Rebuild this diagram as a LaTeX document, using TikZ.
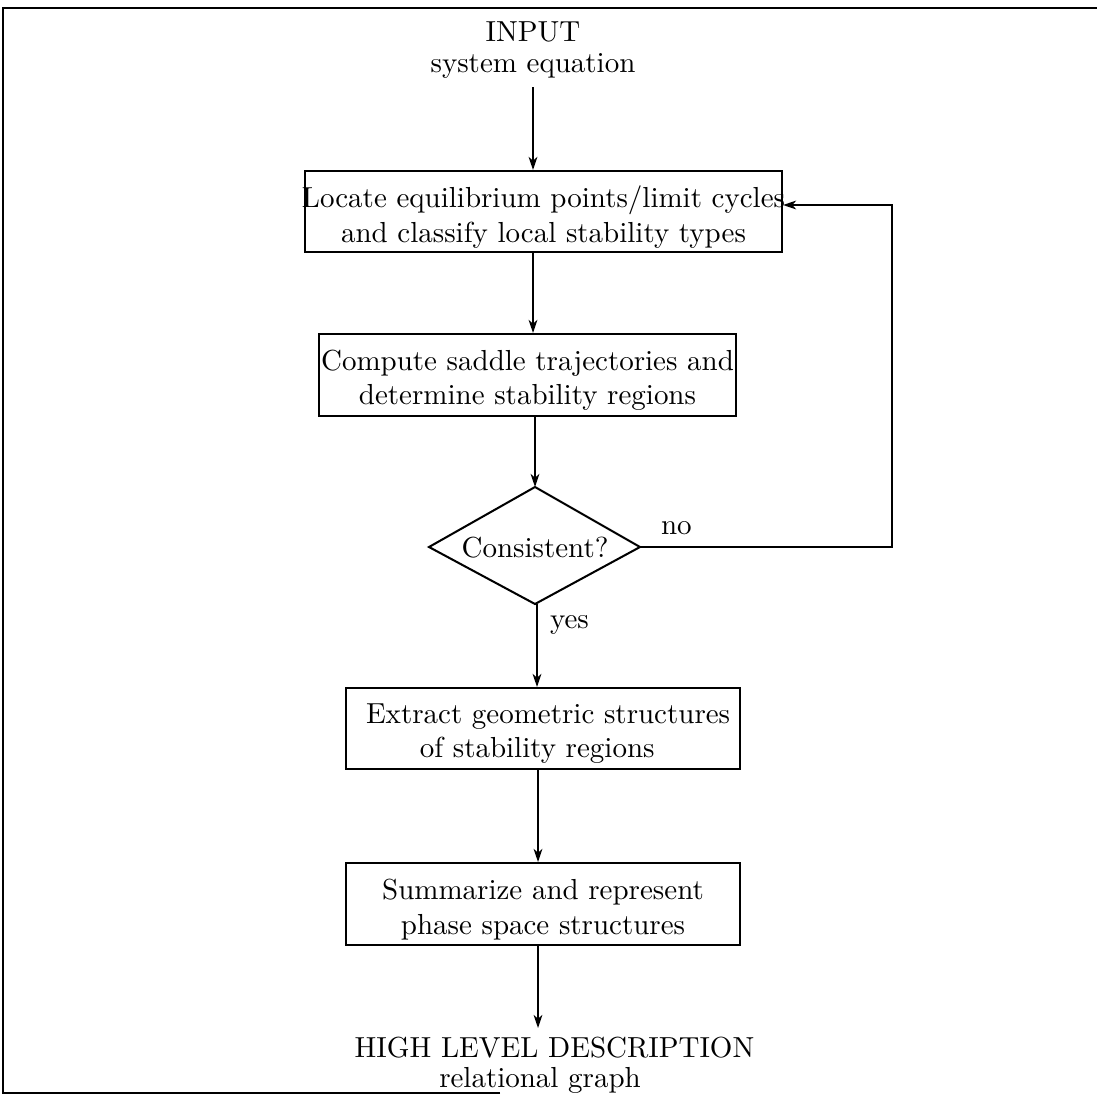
\documentclass[tikz,border=0pt]{standalone}
\usetikzlibrary{shapes.geometric,arrows.meta}
\newcommand\bxline[1]{\makebox[0pt]{\raisebox{-1.8pt}[\height][\depth]{#1}}}
\begin{document}
\begin{tikzpicture}[x=0.345pt,y=-0.345pt,
  line width=0.7pt,
  arr/.style={-{Stealth[length=4.5pt,width=3pt,inset=1.3pt]}},
  procbox/.style={draw,rectangle,inner sep=0pt,align=center},
  plain/.style={inner sep=0pt,align=center}]
\useasboundingbox (0,0) rectangle (1097,1096);
% frame
\draw[line width=0.9pt] (500,1093) -- (3,1093) -- (3,8) -- (1097,8);
% texts
\node[plain] (in) at (533,50) {INPUT\\[-1.5pt]system equation};
\node[procbox,minimum width=477*0.345pt,minimum height=81*0.345pt] (b1) at (543.5,211.5)
  {\bxline{Locate equilibrium points/limit cycles}\\\bxline{and classify local stability types}};
\node[procbox,minimum width=417*0.345pt,minimum height=82*0.345pt] (b2) at (527.5,375)
  {\bxline{Compute saddle trajectories and}\\\bxline{determine stability regions}};
\draw (535,487) -- (640,547) -- (535,604) -- (429,547) -- cycle;
\node[plain] (d) at (535,548) {Consistent?};
\coordinate (dt) at (535,487);
\coordinate (db) at (537,604);
\coordinate (dr) at (640,547);
\node[procbox,minimum width=394*0.345pt,minimum height=81*0.345pt] (b3) at (543,728.5)
  {\bxline{\hspace{3.5pt}Extract geometric structures}\\\bxline{of stability regions\hspace{4pt}}};
\node[procbox,minimum width=394*0.345pt,minimum height=82*0.345pt] (b4) at (543,904)
  {\bxline{Summarize and represent}\\\bxline{phase space structures}};
\node[plain] (out) at (540,1065) {\makebox[0pt]{\hspace{10pt}HIGH LEVEL DESCRIPTION}\\[-1.5pt]\makebox[0pt]{relational graph}};
\node[plain,anchor=base west] (no) at (660,534) {no};
\node[plain,anchor=base west] (yes) at (549,628) {yes};
% arrow columns
\coordinate (x1) at (533,0);
\coordinate (x2) at (535,0);
\coordinate (x3) at (537,0);
\coordinate (x4) at (538,0);
\coordinate (fb) at (892,0);
\coordinate (outtop) at (538,1028);
% connectors
\draw[arr] (533,87) -- (b1.north -| x1);
\draw[arr] (b1.south -| x1) -- (b2.north -| x1);
\draw[arr] (b2.south -| x2) -- (dt);
\draw[arr] (db) -- (b3.north -| x3);
\draw[arr] (b3.south -| x4) -- (b4.north -| x4);
\draw[arr] (b4.south -| x4) -- (outtop);
\draw[arr] (dr) -- (dr -| fb) -- (fb |- 0,205) -- (b1.east |- 0,205);
\end{tikzpicture}
\end{document}
